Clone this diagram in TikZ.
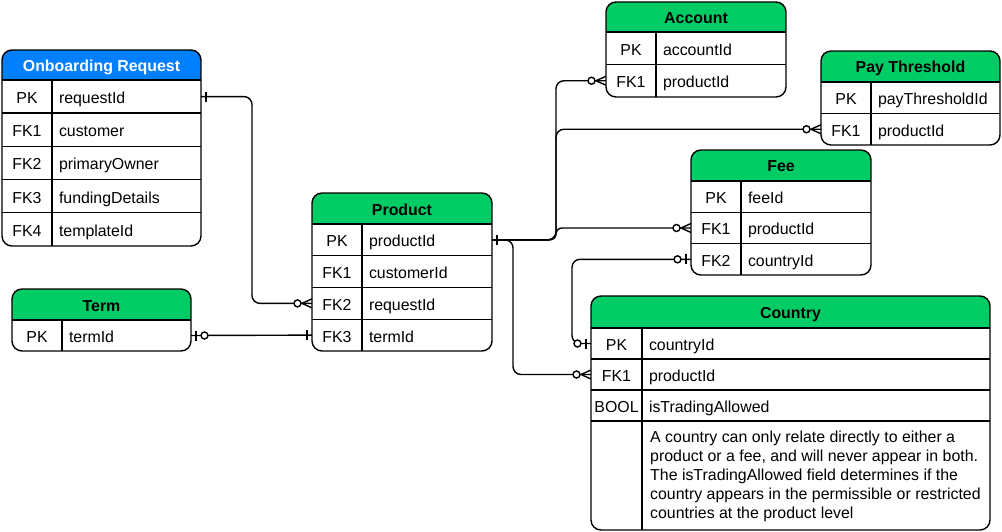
\documentclass[tikz,border=0pt]{standalone}
\usepackage{fontspec}
\setmainfont{Liberation Sans}
\usetikzlibrary{calc}
\definecolor{hdrgreen}{RGB}{0,204,102}
\definecolor{hdrblue}{RGB}{0,127,255}
\tikzset{
  tableline/.style={line width=1.4pt, black},
  conn/.style={line width=1.4pt, black},
  basetext/.style={font=\fontsize{15.9}{19}\selectfont, inner sep=0pt, outer sep=0pt, text height=11pt, text depth=0pt},
  hdrtext/.style={basetext, font=\fontsize{15.9}{19}\selectfont\bfseries},
  keytext/.style={basetext},
  fieldtext/.style={basetext, anchor=west},
  rowbox/.style={inner sep=0pt, outer sep=0pt, anchor=north west},
}
% #1 name, #2 x0, #3 y0, #4 x1, #5 y1, #6 header bottom, #7 fill, #8 title
\newcommand\erhead[8]{%
  \begin{scope}
    \clip[rounded corners=10] (#2,#3) rectangle (#4,#5);
    \fill[#7] (#2,#3) rectangle (#4,#6);
  \end{scope}
  \node[hdrtext] (#1) at ({(#2+#4)/2},{(#3+#6)/2+1}) {#8};
  \draw[tableline] (#2,#6) -- (#4,#6);
  \draw[tableline, rounded corners=10] (#2,#3) rectangle (#4,#5);
}
% #1 name, #2 x0, #3 x1, #4 divider x, #5 top of rows, #6 row height, #7 rows
\newcommand\errows[7]{%
  \foreach \ekey/\efield [count=\i] in {#7} {%
    \pgfmathsetmacro\ya{#5+(\i-1)*#6}%
    \pgfmathsetmacro\ym{#5+(\i-0.5)*#6+1.5}%
    \node[rowbox, minimum width={#3-#2}, minimum height={#6}] (#1-\i) at (#2,\ya) {};
    \draw[tableline] (#2,\ya) -- (#3,\ya);
    \draw[tableline] (#4,\ya) -- (#4,{\ya+#6});
    \node[keytext] (#1-\i-k) at ({(#2+#4)/2},\ym) {\ekey};
    \node[fieldtext] (#1-\i-f) at ({#4+7},\ym) {\efield};
  }%
}
\newcommand\markone[2]{\draw[conn] ($(#1)+(#2*5,-5)$) -- ($(#1)+(#2*5,5)$);}
\newcommand\markzeroone[2]{\markone{#1}{#2}\draw[conn, fill=white] ($(#1)+(#2*13.5,0)$) circle[radius=3.5pt];}
\newcommand\markzeromany[2]{\draw[conn] ($(#1)+(#2*10,0)$) -- ($(#1)+(0,-4.5)$) ($(#1)+(#2*10,0)$) -- ($(#1)+(0,4.5)$);
  \draw[conn, fill=white] ($(#1)+(#2*14.5,0)$) circle[radius=3.5pt];}
\begin{document}
\begin{tikzpicture}[x=1pt,y=-1pt]
\useasboundingbox (0,0) rectangle (1002,532);

% Onboarding Request
\erhead{orq}{2}{50}{201}{246}{80}{hdrblue}{\color{white}Onboarding Request}
\errows{orq}{2}{201}{52}{80}{33.2}{PK/requestId, FK1/customer, FK2/primaryOwner, FK3/fundingDetails, FK4/templateId}

% Term
\erhead{term}{12}{289}{191}{351}{320}{hdrgreen}{Term}
\errows{term}{12}{191}{62}{320}{31}{PK/termId}

% Product
\erhead{prod}{312}{193}{492}{351}{224}{hdrgreen}{Product}
\errows{prod}{312}{492}{362}{224}{31.75}{PK/productId, FK1/customerId, FK2/requestId, FK3/termId}

% Account
\erhead{acc}{606}{2}{786}{97}{32}{hdrgreen}{Account}
\errows{acc}{606}{786}{656}{32}{32.5}{PK/accountId, FK1/productId}

% Pay Threshold
\erhead{pay}{821}{51}{1000}{145}{82}{hdrgreen}{Pay Threshold}
\errows{pay}{821}{1000}{871}{82}{31.5}{PK/payThresholdId, FK1/productId}

% Fee
\erhead{fee}{691}{150}{871}{275}{181}{hdrgreen}{Fee}
\errows{fee}{691}{871}{741}{181}{31.33}{PK/feeId, FK1/productId, FK2/countryId}

% Country
\erhead{cty}{591}{296}{990}{530}{328}{hdrgreen}{Country}
\errows{cty}{591}{990}{642}{328}{31}{PK/countryId, FK1/productId, BOOL/isTradingAllowed}
\draw[tableline] (591,421) -- (990,421);
\draw[tableline] (642,421) -- (642,530);
\node[font=\fontsize{15.9}{19.1}\selectfont, inner sep=0pt, anchor=north west, align=left] (cty-note) at (650,430.5)
  {A country can only relate directly to either a\\
   product or a fee, and will never appear in both.\\
   The isTradingAllowed field determines if the\\
   country appears in the permissible or restricted\\
   countries at the product level};

% Connectors
\draw[conn, rounded corners=8] (orq-1.east) -- ++(51,0) |- (prod-3.west);
\draw[conn] (term-1.east) -- (prod-4.west);
\draw[conn, rounded corners=8] (prod-1.east) -- ++(64,0) |- (acc-2.west);
\draw[conn, rounded corners=8] (prod-1.east) -- ++(64,0) |- (pay-2.west);
\draw[conn, rounded corners=6] (prod-1.east) -- ++(64,0) |- (fee-2.west);
\draw[conn, rounded corners=8] (prod-1.east) -- ++(21,0) |- (cty-2.west);
\draw[conn, rounded corners=8] (fee-3.west) -- ++(-119,0) |- (cty-1.west);

% Markers
\markone{orq-1.east}{1}
\markzeromany{prod-3.west}{-1}
\markzeroone{term-1.east}{1}
\markone{prod-4.west}{-1}
\markone{prod-1.east}{1}
\markzeromany{acc-2.west}{-1}
\markzeromany{pay-2.west}{-1}
\markzeromany{fee-2.west}{-1}
\markzeromany{cty-2.west}{-1}
\markzeroone{fee-3.west}{-1}
\markzeroone{cty-1.west}{-1}
\end{tikzpicture}
\end{document}
